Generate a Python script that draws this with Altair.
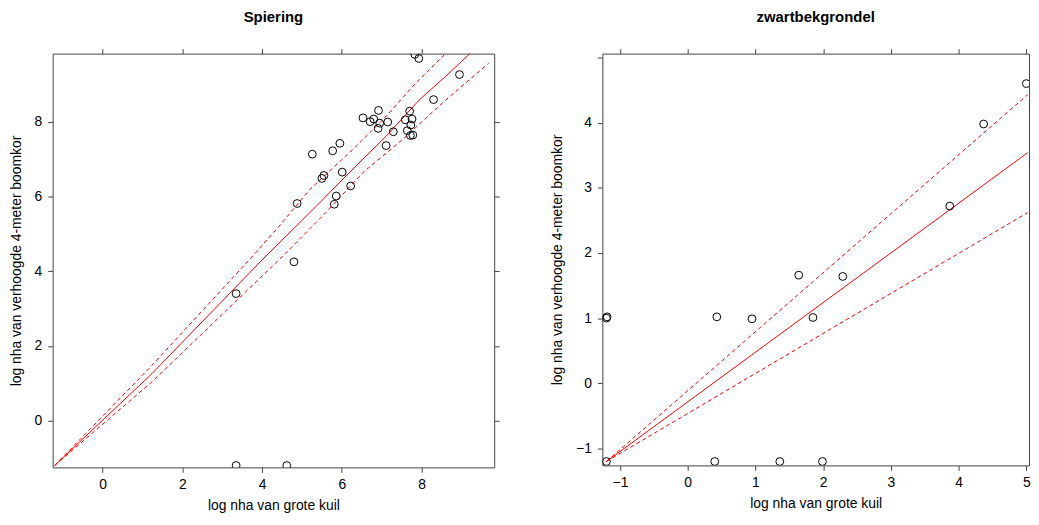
import altair as alt
import pandas as pd

FONT = "Liberation Sans"

# ---- Spiering (left panel) ----
sp_x = [7.83, 7.93, 8.95, 8.30, 6.92, 7.70, 6.53, 6.71, 6.80, 6.95, 7.15, 6.91,
        7.59, 7.76, 7.73, 7.29, 7.64, 7.72, 7.78, 7.11, 5.95, 5.77, 5.26, 6.01,
        5.55, 5.50, 6.22, 5.86, 5.81, 4.88, 4.80, 3.35, 3.35, 4.62]
sp_y = [9.80, 9.69, 9.26, 8.59, 8.30, 8.28, 8.10, 8.00, 8.07, 7.96, 7.99, 7.82,
        8.05, 8.07, 7.91, 7.73, 7.76, 7.63, 7.64, 7.36, 7.42, 7.22, 7.13, 6.65,
        6.56, 6.48, 6.28, 6.01, 5.79, 5.81, 4.25, 3.40, -1.20, -1.20]

sp_fit_x = [-1.2, 1.24, 4.00, 5.37, 6.19, 7.11, 7.94, 8.60, 9.21]
sp_fit_y = [-1.2, 1.26, 4.30, 5.75, 6.64, 7.61, 8.58, 9.21, 9.82]
sp_up_x = [-1.2, 1.24, 3.72, 4.37, 5.20, 6.28, 7.11, 7.85, 8.60]
sp_up_y = [-1.2, 1.48, 4.35, 5.13, 6.19, 7.26, 8.14, 9.03, 9.82]
sp_lo_x = [-1.2, 1.24, 4.47, 5.61, 6.53, 7.52, 8.52, 9.68]
sp_lo_y = [-1.2, 1.04, 4.35, 5.58, 6.64, 7.52, 8.50, 9.56]

# ---- zwartbekgrondel (right panel) ----
zw_x = [5.00, 4.37, 3.87, 1.64, 2.29, 0.43, 0.95, 1.85, -1.20, -1.19,
        -1.20, 0.40, 1.36, 1.99]
zw_y = [4.60, 3.98, 2.72, 1.66, 1.64, 1.02, 0.99, 1.01, 1.00, 1.02,
        -1.20, -1.20, -1.20, -1.20]

zw_fit_x = [-1.2, 5.02]
zw_fit_y = [-1.2, 3.54]
zw_up_x = [-1.2, 5.02]
zw_up_y = [-1.2, 4.43]
zw_lo_x = [-1.2, 5.02]
zw_lo_y = [-1.2, 2.62]

x_title = "log nha van grote kuil"
y_title = "log nha van verhoogde 4-meter boomkor"
FRAME = "#444444"
LINE = "#ff0000"


def panel(title, px, py, lines, xdom, ydom, xticks, yticks, w, h,
          ylabel_expr=None, right_ticks=True, flush=False):
    xs = alt.Scale(domain=xdom, nice=False, zero=False)
    ys = alt.Scale(domain=ydom, nice=False, zero=False)
    yaxis_kw = dict(values=yticks, title=y_title, grid=False, domain=False,
                    tickSize=5, tickColor=FRAME, labelPadding=6, titlePadding=11)
    if ylabel_expr:
        yaxis_kw["labelExpr"] = ylabel_expr
    pts = alt.Chart(pd.DataFrame({"x": px, "y": py})).mark_point(
        shape="circle", filled=False, color="black", size=62, strokeWidth=1,
        opacity=1, clip=True
    ).encode(
        x=alt.X("x:Q", scale=xs, axis=alt.Axis(values=xticks, title=x_title, grid=False,
                                               domain=False, tickSize=5, tickColor=FRAME,
                                               labelPadding=5, titlePadding=7,
                                               labelFlush=flush)),
        y=alt.Y("y:Q", scale=ys, axis=alt.Axis(**yaxis_kw)),
    )
    layers = []
    for i, (lx, ly, dash) in enumerate(lines):
        if i == 0:
            xe = alt.X("x:Q", scale=xs, axis=alt.Axis(orient="top", values=xticks, labels=False,
                                                      title=None, grid=False, domain=False,
                                                      tickSize=5, tickColor=FRAME))
            if right_ticks:
                ye = alt.Y("y:Q", scale=ys, axis=alt.Axis(orient="right", values=yticks, labels=False,
                                                          title=None, grid=False, domain=False,
                                                          tickSize=5, tickColor=FRAME))
            else:
                ye = alt.Y("y:Q", scale=ys, axis=None)
        else:
            xe = alt.X("x:Q", scale=xs, axis=None)
            ye = alt.Y("y:Q", scale=ys, axis=None)
        kw = dict(color=LINE, strokeWidth=1)
        if dash:
            kw["strokeDash"] = [4, 3]
        layers.append(alt.Chart(pd.DataFrame({"x": lx, "y": ly})).mark_line(**kw).encode(x=xe, y=ye))
    return alt.layer(*layers, pts).resolve_axis(x="independent", y="independent").properties(
        width=w, height=h,
        title=alt.TitleParams(title, fontSize=15, fontWeight="bold", font=FONT,
                              anchor="middle", color="black", offset=23),
    )


left = panel("Spiering", sp_x, sp_y,
             [(sp_fit_x, sp_fit_y, False), (sp_up_x, sp_up_y, True), (sp_lo_x, sp_lo_y, True)],
             [-1.25, 9.82], [-1.25, 9.82], [0, 2, 4, 6, 8], [0, 2, 4, 6, 8], 445, 417)
right = panel("zwartbekgrondel", zw_x, zw_y,
              [(zw_fit_x, zw_fit_y, False), (zw_up_x, zw_up_y, True), (zw_lo_x, zw_lo_y, True)],
              [-1.26, 5.04], [-1.26, 5.06], [-1, 0, 1, 2, 3, 4, 5], [-1, 0, 1, 2, 3, 4, 5],
              430, 415,
              ylabel_expr="datum.value == 5 ? '' : datum.label", right_ticks=False, flush=True)

chart = alt.hconcat(left, right, spacing=50).properties(
    padding={"left": 0, "top": 0, "right": 0, "bottom": 0}
).configure_view(
    stroke=FRAME, strokeWidth=1
).configure_axis(
    labelFont=FONT, labelFontSize=14, labelColor="black",
    titleFont=FONT, titleFontSize=14, titleFontWeight="normal", titleColor="black",
)

chart.save("out.html", embed_options={"renderer": "svg", "actions": False})
